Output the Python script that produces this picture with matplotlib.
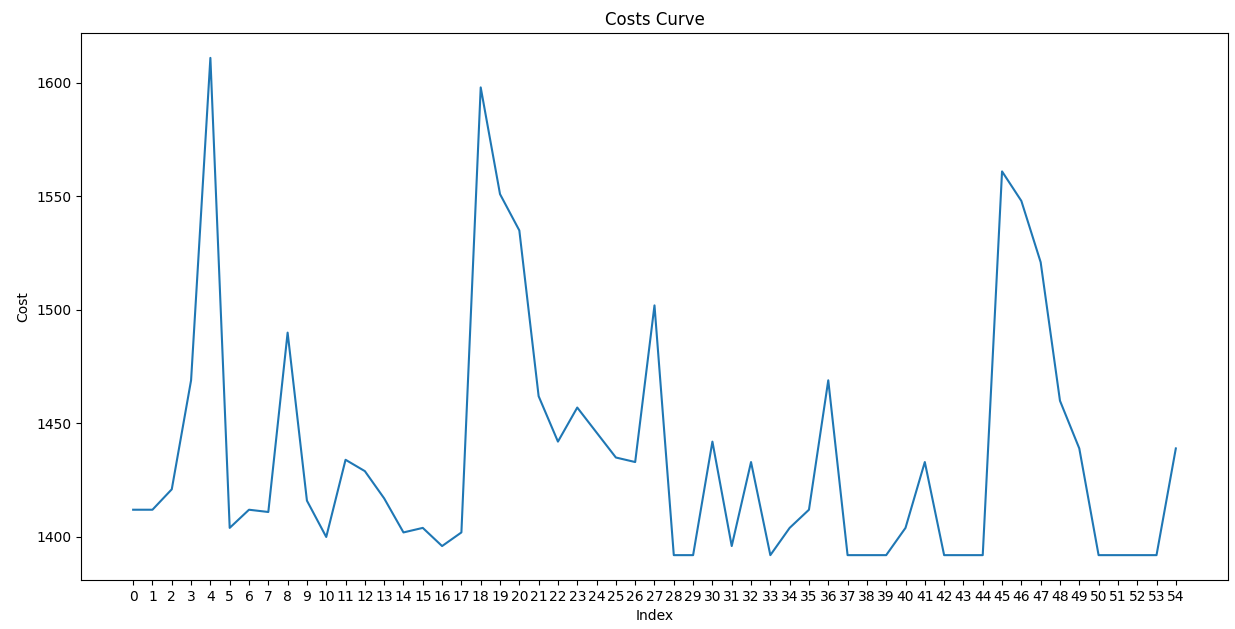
import matplotlib
matplotlib.use("Agg")
import matplotlib.pyplot as plt

index = list(range(55))
costs = [1412, 1412, 1421, 1469, 1611, 1404, 1412, 1411, 1490, 1416,
         1400, 1434, 1429, 1417, 1402, 1404, 1396, 1402, 1598, 1551,
         1535, 1462, 1442, 1457, 1446, 1435, 1433, 1502, 1392, 1392,
         1442, 1396, 1433, 1392, 1404, 1412, 1469, 1392, 1392, 1392,
         1404, 1433, 1392, 1392, 1392, 1561, 1548, 1521, 1460, 1439,
         1392, 1392, 1392, 1392, 1439]
tick_labels = [str(i) for i in index]

fig, ax = plt.subplots(figsize=(12.35, 6.29), dpi=100)
fig.subplots_adjust(left=0.0656, right=0.9943, top=0.9475, bottom=0.0779)
ax.plot(index, costs, color="#1f77b4", linewidth=1.5)
ax.set_xticks(index)
ax.set_xticklabels(tick_labels)
ax.set_title("Costs Curve")
ax.set_xlabel("Index")
ax.set_ylabel("Cost")
fig.savefig("out.png", dpi=100)
